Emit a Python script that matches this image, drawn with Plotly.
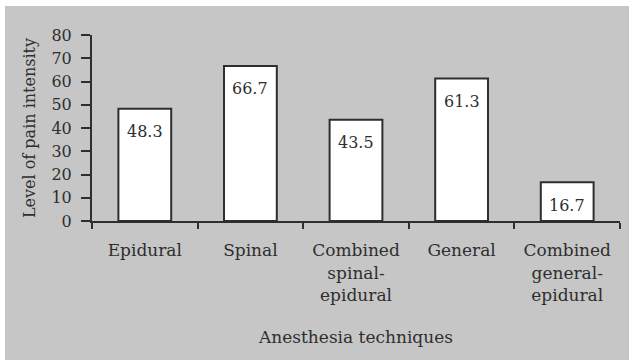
import plotly.graph_objects as go

# Pain intensity by anesthesia technique
techniques = [
    "Epidural",
    "Spinal",
    "Combined<br>spinal-<br>epidural",
    "General",
    "Combined<br>general-<br>epidural",
]
pain_levels = [48.3, 66.7, 43.5, 61.3, 16.7]
y_ticks = [0, 10, 20, 30, 40, 50, 60, 70, 80]

FONT = "DejaVu Serif"
INK = "#2e2e2e"
BG = "#c6c6c6"

W, H = 629, 360
ML, MR, MT, MB = 92, 9, 35, 139

fig = go.Figure()
fig.add_trace(
    go.Bar(
        x=techniques,
        y=pain_levels,
        width=0.5,
        marker=dict(color="white", line=dict(color=INK, width=2)),
        hoverinfo="x+y",
    )
)

# value labels just inside the top of each bar
for cat, val in zip(techniques, pain_levels):
    fig.add_annotation(
        x=cat, y=val, text=f"{val:.1f}", showarrow=False,
        yanchor="middle", yshift=-23,
        font=dict(family=FONT, size=16, color=INK),
    )

# white strip along the top and left edges of the page
pw = W - ML - MR
ph = H - MT - MB
fig.add_shape(type="rect", xref="paper", yref="paper",
              x0=-ML / pw, x1=(W - ML) / pw, y0=(H - MB - 6) / ph, y1=(H - MB) / ph,
              fillcolor="white", line_width=0, layer="below")
fig.add_shape(type="rect", xref="paper", yref="paper",
              x0=-ML / pw, x1=(-ML + 5) / pw, y0=-MB / ph, y1=(H - MB) / ph,
              fillcolor="white", line_width=0, layer="below")

fig.update_layout(
    width=W, height=H,
    margin=dict(l=ML, r=MR, t=MT, b=MB, pad=0),
    paper_bgcolor=BG,
    plot_bgcolor=BG,
    showlegend=False,
    font=dict(family=FONT, size=16, color=INK),
    bargap=0.5,
)
fig.update_xaxes(
    type="category",
    range=[-0.5, 4.5],
    showline=True, linecolor=INK, linewidth=2,
    ticks="outside", tickson="boundaries", ticklen=6, tickwidth=2, tickcolor=INK,
    ticklabelstandoff=13,
    tickfont=dict(family=FONT, size=17, color=INK),
    showgrid=False, zeroline=False,
    title=dict(text="Anesthesia techniques", font=dict(family=FONT, size=17, color=INK), standoff=28),
)
fig.update_yaxes(
    range=[0, 80],
    tickvals=y_ticks,
    showline=True, linecolor=INK, linewidth=2,
    ticks="outside", ticklen=9, tickwidth=2, tickcolor=INK,
    ticklabelstandoff=6,
    tickfont=dict(family=FONT, size=16, color=INK),
    showgrid=False, zeroline=False,
    title=dict(text="Level of pain intensity", font=dict(family=FONT, size=16, color=INK), standoff=12),
)

fig.write_html("out.html")
